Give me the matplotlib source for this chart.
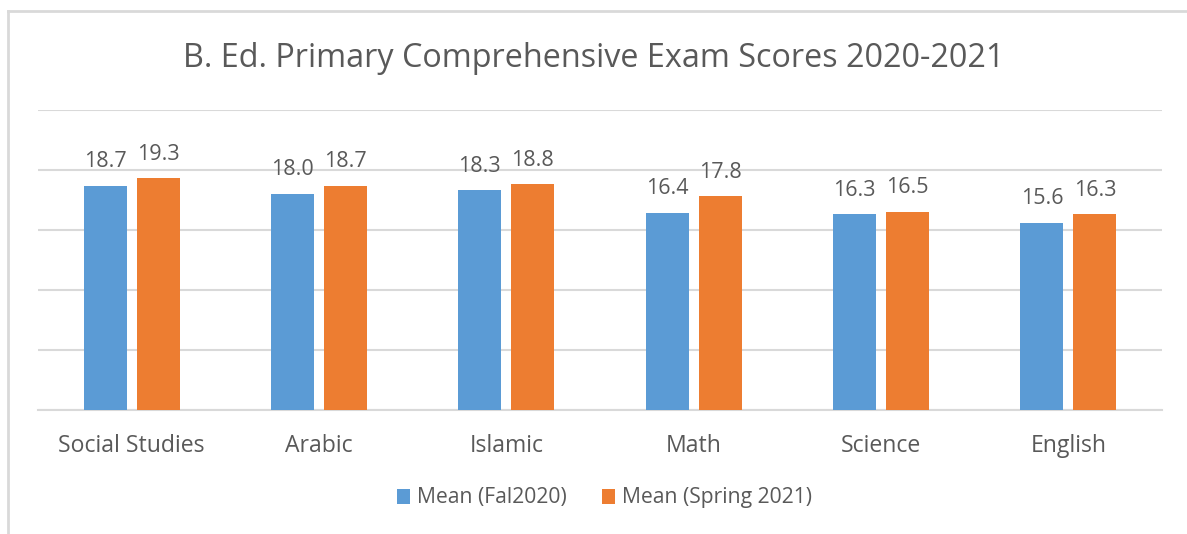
import matplotlib
matplotlib.use("Agg")
import matplotlib.pyplot as plt
from matplotlib.lines import Line2D
from matplotlib.patches import Patch
import numpy as np

categories = ["Social Studies", "Arabic", "Islamic", "Math", "Science", "English"]
fall_2020 = [18.7, 18.0, 18.3, 16.4, 16.3, 15.6]
spring_2021 = [19.3, 18.7, 18.8, 17.8, 16.5, 16.3]
series_names = ["Mean (Fal2020)", "Mean (Spring 2021)"]
title = "B. Ed. Primary Comprehensive Exam Scores 2020-2021"

W, H = 1187, 534
plt.rcParams['font.family'] = ['Open Sans', 'DejaVu Sans']
text_color = "#595959"
blue = "#5B9BD5"
orange = "#ED7D31"
grid_color = "#D9D9D9"

fig = plt.figure(figsize=(W / 100, H / 100), dpi=100)
fig.patch.set_facecolor("white")

# chart border (top and left lines visible)
fig.add_artist(Line2D([8 / W, 1.0], [1 - 10.5 / H, 1 - 10.5 / H], color=grid_color, lw=2))
fig.add_artist(Line2D([8 / W, 8 / W], [0, 1 - 10.5 / H], color=grid_color, lw=2))

left, right, top, bottom = 38, 1162, 110, 410
ax = fig.add_axes([left / W, 1 - bottom / H, (right - left) / W, (bottom - top) / H])
x = np.arange(len(categories))
bw = 0.23
off = 0.1415
b1 = ax.bar(x - off, fall_2020, bw, color=blue, zorder=3)
b2 = ax.bar(x + off, spring_2021, bw, color=orange, zorder=3)
ax.set_xlim(-0.5, len(categories) - 0.5)
ax.set_ylim(0, 25)
ax.set_yticks([0, 5, 10, 15, 20, 25])
ax.yaxis.grid(True, color=grid_color, lw=1.5, zorder=0)
ax.tick_params(axis='y', left=False, labelleft=False)
ax.tick_params(axis='x', bottom=False, labelsize=16.6, labelcolor=text_color, pad=13.5)
ax.set_xticks(x)
ax.set_xticklabels(categories)
for s in ["top", "right", "left"]:
    ax.spines[s].set_visible(False)
ax.spines["bottom"].set_color(grid_color)
ax.spines["bottom"].set_linewidth(1.5)

for xs, vals in ((x - off, fall_2020), (x + off, spring_2021)):
    for xi, v in zip(xs, vals):
        ax.annotate(f"{v:.1f}", (xi, v), xytext=(0, 13.5), textcoords="offset points",
                    ha="center", va="baseline", fontsize=15.5, color=text_color)

fig.text(0.5, 1 - 67 / H, title, ha="center", va="baseline", fontsize=23.3, color=text_color)

handles = [Patch(facecolor=blue), Patch(facecolor=orange)]
fig.legend(handles, series_names, loc="center", bbox_to_anchor=(0.5 + 11 / W, 1 - 498 / H), ncol=2,
           frameon=False, fontsize=15.2, labelcolor=text_color, handlelength=0.62, handleheight=0.7,
           handletextpad=0.3, columnspacing=1.7)

fig.savefig("out.png", dpi=100, facecolor="white")
